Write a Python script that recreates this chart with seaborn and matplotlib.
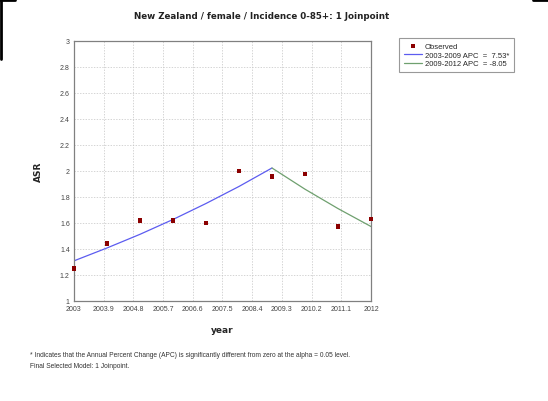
import numpy as np
import pandas as pd
import matplotlib
matplotlib.use("Agg")
import matplotlib.pyplot as plt
import seaborn as sns
from matplotlib.lines import Line2D

# observed age-standardised rates
years = [2003, 2004, 2005, 2006, 2007, 2008, 2009, 2010, 2011, 2012]
asr_observed = [1.25, 1.44, 1.62, 1.62, 1.60, 2.00, 1.956, 1.975, 1.57, 1.63]

# joinpoint fitted segments
seg1_years = [2003, 2004, 2005, 2006, 2007, 2008, 2009]
seg1_fit = [1.308, 1.407, 1.512, 1.626, 1.749, 1.880, 2.022]
seg2_years = [2009, 2010, 2011, 2012]
seg2_fit = [2.022, 1.859, 1.710, 1.572]

xtick_vals = [2003, 2003.9, 2004.8, 2005.7, 2006.6, 2007.5, 2008.4, 2009.3, 2010.2, 2011.1, 2012]
ytick_vals = [1, 1.2, 1.4, 1.6, 1.8, 2, 2.2, 2.4, 2.6, 2.8, 3]

seg1_label = "2003-2009 APC  =  7.53*"
seg2_label = "2009-2012 APC  = -8.05"

sns.set_style("white")
plt.rcParams['font.family'] = ['Liberation Sans', 'DejaVu Sans']

obs = pd.DataFrame({'year': years, 'ASR': asr_observed})
s1 = pd.DataFrame({'year': seg1_years, 'ASR': seg1_fit})
s2 = pd.DataFrame({'year': seg2_years, 'ASR': seg2_fit})

fig = plt.figure(figsize=(5.48, 4.02), dpi=100)
ax = fig.add_axes([0.135, 0.249, 0.542, 0.647])

sns.lineplot(data=s1, x='year', y='ASR', ax=ax, color='#5c5cf0', lw=0.9, label=seg1_label)
sns.lineplot(data=s2, x='year', y='ASR', ax=ax, color='#6fa06f', lw=0.9, label=seg2_label)
sns.scatterplot(data=obs, x='year', y='ASR', ax=ax, color='#8b0000', marker='s', s=11,
                edgecolor='none', label='Observed', zorder=5, clip_on=False)

ax.set_xlim(2003, 2012)
ax.set_ylim(1, 3)
ax.set_xticks(xtick_vals)
ax.set_xticklabels([f"{v:g}" for v in xtick_vals])
ax.set_yticks(ytick_vals)
ax.set_yticklabels([f"{v:g}" for v in ytick_vals])
ax.tick_params(length=0, labelsize=5, colors='#444444', pad=3)
ax.grid(True, color='#c4c4c4', linestyle=(0, (2, 2)), lw=0.5)
for sp in ax.spines.values():
    sp.set_color('#808080')
    sp.set_linewidth(0.9)

ax.set_xlabel('year', fontsize=6.5, fontweight='bold', family='DejaVu Sans', labelpad=9)
ax.set_ylabel('ASR', fontsize=6.5, fontweight='bold', family='DejaVu Sans', labelpad=12)

fig.suptitle('New Zealand / female / Incidence 0-85+: 1 Joinpoint', x=0.477, y=0.97,
             fontsize=6.3, fontweight='bold', family='DejaVu Sans', color='#222222')

# legend ordered as in reference
handles, labels = ax.get_legend_handles_labels()
order = [labels.index('Observed'), labels.index(seg1_label), labels.index(seg2_label)]
leg = ax.legend([handles[i] for i in order], [labels[i] for i in order],
                loc='upper left', bbox_to_anchor=(0.721, 0.913), bbox_transform=fig.transFigure,
                fontsize=5.5, frameon=True, fancybox=False, edgecolor='#808080',
                handlelength=2.4, handletextpad=0.4, borderpad=0.6, labelspacing=0.2,
                markerscale=0.8)
leg.get_frame().set_linewidth(0.8)

fig.text(0.055, 0.111, '* Indicates that the Annual Percent Change (APC) is significantly different from zero at the alpha = 0.05 level.',
         fontsize=4.8, color='#333333')
fig.text(0.055, 0.084, 'Final Selected Model: 1 Joinpoint.', fontsize=4.8, color='#333333')

# screenshot border fragments
fig.add_artist(Line2D([0, 0.027], [0.998, 0.998], color='black', lw=2, transform=fig.transFigure))
fig.add_artist(Line2D([0.002, 0.002], [1, 0.85], color='black', lw=2, transform=fig.transFigure))
fig.add_artist(Line2D([0.973, 1], [0.998, 0.998], color='black', lw=2, transform=fig.transFigure))

fig.savefig('out.png', dpi=100)
